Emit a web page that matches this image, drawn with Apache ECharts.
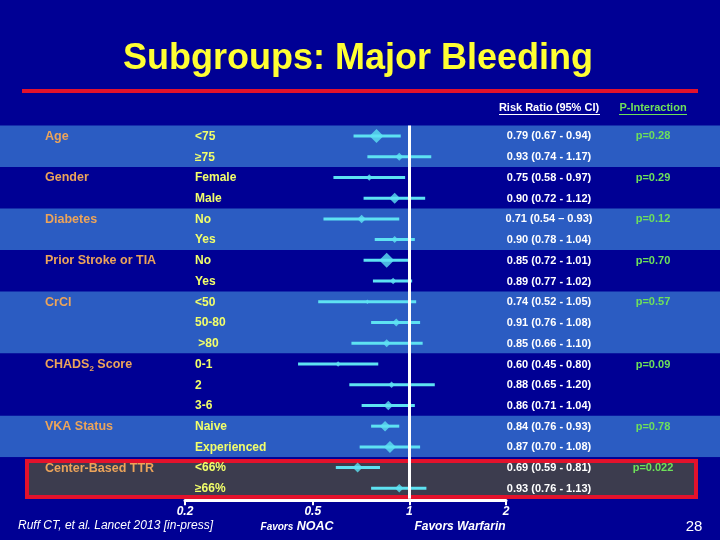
<!DOCTYPE html>
<html>
<head>
<meta charset="utf-8">
<style>
  html, body { margin: 0; padding: 0; background: #000094; }
  #chart { width: 720px; height: 540px; }
</style>
<script src="https://cdn.jsdelivr.net/npm/echarts@6/dist/echarts.min.js"></script>
</head>
<body>
<div id="chart"></div>
<script>
// rows, top to bottom
var groups = ['Age', '', 'Gender', '', 'Diabetes', '', 'Prior Stroke or TIA', '', 'CrCl', '', '',
    'CHADS2 Score', '', '', 'VKA Status', '', 'Center-Based TTR', ''];
var subgroups = ['<75', '\u226575', 'Female', 'Male', 'No', 'Yes', 'No', 'Yes', '<50', '50-80', ' >80',
    '0-1', '2', '3-6', 'Naive', 'Experienced', '<66%', '\u226566%'];
var riskRatio = [0.79, 0.93, 0.75, 0.90, 0.71, 0.90, 0.85, 0.89, 0.74, 0.91, 0.85, 0.60, 0.88, 0.86, 0.84, 0.87, 0.69, 0.93];
var ciLow = [0.67, 0.74, 0.58, 0.72, 0.54, 0.78, 0.72, 0.77, 0.52, 0.76, 0.66, 0.45, 0.65, 0.71, 0.76, 0.70, 0.59, 0.76];
var ciHigh = [0.94, 1.17, 0.97, 1.12, 0.93, 1.04, 1.01, 1.02, 1.05, 1.08, 1.10, 0.80, 1.20, 1.04, 0.93, 1.08, 0.81, 1.13];
var ciLabels = ['0.79 (0.67 - 0.94)', '0.93 (0.74 - 1.17)', '0.75 (0.58 - 0.97)', '0.90 (0.72 - 1.12)',
    '0.71 (0.54 \u2013 0.93)', '0.90 (0.78 - 1.04)', '0.85 (0.72 - 1.01)', '0.89 (0.77 - 1.02)',
    '0.74 (0.52 - 1.05)', '0.91 (0.76 - 1.08)', '0.85 (0.66 - 1.10)', '0.60 (0.45 - 0.80)',
    '0.88 (0.65 - 1.20)', '0.86 (0.71 - 1.04)', '0.84 (0.76 - 0.93)', '0.87 (0.70 - 1.08)',
    '0.69 (0.59 - 0.81)', '0.93 (0.76 - 1.13)'];
// relative weight of each subgroup (diamond size)
var weights = [14, 8, 6.5, 11, 8.5, 7, 15, 6.5, 4.5, 8, 8, 5.5, 6.5, 9.5, 10.5, 12, 10, 8.5];
var pValues = ['p=0.28', '', 'p=0.29', '', 'p=0.12', '', 'p=0.70', '', 'p=0.57', '', '',
    'p=0.09', '', '', 'p=0.78', '', 'p=0.022', ''];
var tickValues = [0.2, 0.5, 1, 2];
// background bands: first row, last row, kind
var bands = [[0, 1, 'light'], [2, 3, 'dark'], [4, 5, 'light'], [6, 7, 'dark'],
    [8, 10, 'light'], [11, 13, 'dark'], [14, 15, 'light'], [16, 17, 'ttr']];

var FONT = '"Liberation Sans", Arial, sans-serif';
var NAVY = '#000094';
var LIGHT = '#2b5cc2';
var GRAY = '#3c3c4e';
var RED = '#e3122c';
var CYAN = '#5ee2f2';
var ORANGE = '#eca45a';
var YELLOW = '#f2ff6a';
var GREEN = '#6ee05a';

var chart = echarts.init(document.getElementById('chart'));

function renderBand(params, api) {
    var b = bands[params.dataIndex];
    var h = api.size([0, 1])[1];
    var top = api.coord([1, b[0]])[1] - h / 2;
    var bottom = api.coord([1, b[1]])[1] + h / 2;
    var w = api.getWidth();
    if (b[2] === 'ttr') {
        return {
            type: 'group',
            children: [
                { type: 'rect', shape: { x: 0, y: top, width: w, height: bottom - top }, style: { fill: NAVY } },
                { type: 'rect', shape: { x: 27, y: top + 3.8, width: 669, height: bottom - top - 5.5 },
                  style: { fill: GRAY, stroke: RED, lineWidth: 4 } }
            ]
        };
    }
    return {
        type: 'rect',
        shape: { x: 0, y: top, width: w, height: bottom - top },
        style: { fill: b[2] === 'light' ? LIGHT : NAVY }
    };
}

function renderCI(params, api) {
    var i = params.dataIndex;
    var p1 = api.coord([ciLow[i], i]);
    var p2 = api.coord([ciHigh[i], i]);
    return {
        type: 'line',
        shape: { x1: p1[0], y1: p1[1], x2: p2[0], y2: p2[1] },
        style: { stroke: CYAN, lineWidth: 3 }
    };
}

function renderRowText(params, api) {
    var i = params.dataIndex;
    var y = api.coord([1, i])[1] + 0.5;
    var kids = [];
    if (groups[i]) {
        var g = groups[i];
        var st = { x: 45, y: y, fill: ORANGE, fontFamily: FONT, fontWeight: 'bold', fontSize: 12.5,
                   verticalAlign: 'middle', align: 'left' };
        if (g.indexOf('CHADS2') === 0) {
            st.text = '{g|CHADS}{s|2}{g|' + g.slice(6) + '}';
            st.rich = {
                g: { fontFamily: FONT, fontWeight: 'bold', fontSize: 12.5, fill: ORANGE, lineHeight: 16 },
                s: { fontFamily: FONT, fontWeight: 'bold', fontSize: 8, fill: ORANGE, lineHeight: 9, verticalAlign: 'bottom' }
            };
        } else {
            st.text = g;
        }
        kids.push({ type: 'text', style: st });
    }
    kids.push({ type: 'text', style: { text: subgroups[i], x: 195, y: y, fill: YELLOW, fontFamily: FONT,
        fontWeight: 'bold', fontSize: 12, verticalAlign: 'middle', align: 'left' } });
    kids.push({ type: 'text', style: { text: ciLabels[i], x: 549, y: y, fill: '#ffffff', fontFamily: FONT,
        fontWeight: 'bold', fontSize: 11, verticalAlign: 'middle', align: 'center' } });
    if (pValues[i]) {
        kids.push({ type: 'text', style: { text: pValues[i], x: 653, y: y, fill: GREEN, fontFamily: FONT,
            fontWeight: 'bold', fontSize: 11, verticalAlign: 'middle', align: 'center' } });
    }
    return { type: 'group', children: kids };
}

var rowIdx = subgroups.map(function (s, i) { return i; });

var option = {
    backgroundColor: NAVY,
    animation: false,
    grid: { left: 185, right: 214, top: 125.6, bottom: 41.3 },
    xAxis: {
        type: 'log',
        logBase: 10,
        min: 0.2,
        max: 2,
        offset: 1.5,
        axisLine: { show: true, lineStyle: { color: '#ffffff', width: 3 } },
        axisTick: { show: true, customValues: tickValues, length: 5, lineStyle: { color: '#ffffff', width: 2 } },
        axisLabel: {
            customValues: tickValues,
            color: '#ffffff', fontFamily: FONT, fontWeight: 'bold', fontStyle: 'italic', fontSize: 12, margin: 5,
            formatter: function (v) { return String(v); }
        },
        splitLine: { show: false },
        minorTick: { show: false }
    },
    yAxis: {
        type: 'category',
        inverse: true,
        data: rowIdx,
        show: false
    },
    graphic: [
        { type: 'text', x: 358, y: 59, z: 10,
          style: { text: 'Subgroups: Major Bleeding', fill: '#ffff33', fontFamily: FONT, fontWeight: 'bold',
                   fontSize: 36, align: 'center', verticalAlign: 'middle',
                   shadowColor: 'rgba(0,0,30,0.95)', shadowOffsetX: 2, shadowOffsetY: 2, shadowBlur: 1 } },
        { type: 'rect', shape: { x: 22, y: 89, width: 676, height: 4 }, style: { fill: RED } },
        { type: 'text', x: 549, y: 108,
          style: { text: 'Risk Ratio (95% CI)', fill: '#ffffff', fontFamily: FONT, fontWeight: 'bold', fontSize: 11,
                   align: 'center', verticalAlign: 'middle' } },
        { type: 'rect', shape: { x: 499, y: 114, width: 101, height: 1 }, style: { fill: '#ffffff' } },
        { type: 'text', x: 653, y: 108,
          style: { text: 'P-Interaction', fill: GREEN, fontFamily: FONT, fontWeight: 'bold', fontSize: 11,
                   align: 'center', verticalAlign: 'middle' } },
        { type: 'rect', shape: { x: 619, y: 114, width: 68, height: 1 }, style: { fill: GREEN } },
        { type: 'text', x: 18, y: 526,
          style: { text: 'Ruff CT, et al. Lancet 2013 [in-press]', fill: '#ffffff', fontFamily: FONT,
                   fontStyle: 'italic', fontSize: 12, align: 'left', verticalAlign: 'middle' } },
        { type: 'text', x: 297, y: 527,
          style: { text: '{a|Favors} {b|NOAC}', align: 'center', verticalAlign: 'middle',
                   rich: {
                       a: { fill: '#ffffff', fontFamily: FONT, fontWeight: 'bold', fontStyle: 'italic', fontSize: 10 },
                       b: { fill: '#ffffff', fontFamily: FONT, fontWeight: 'bold', fontStyle: 'italic', fontSize: 12.5 }
                   } } },
        { type: 'text', x: 460, y: 527,
          style: { text: 'Favors Warfarin', fill: '#ffffff', fontFamily: FONT, fontWeight: 'bold',
                   fontStyle: 'italic', fontSize: 12, align: 'center', verticalAlign: 'middle' } },
        { type: 'text', x: 694, y: 527,
          style: { text: '28', fill: '#ffffff', fontFamily: FONT, fontSize: 15, align: 'center', verticalAlign: 'middle' } }
    ],
    series: [
        {
            type: 'custom',
            name: 'bands',
            z: 0,
            silent: true,
            renderItem: renderBand,
            encode: { x: 0, y: 1 },
            data: bands.map(function (b) { return [1, b[0]]; })
        },
        {
            type: 'custom',
            name: 'rowText',
            z: 1,
            silent: true,
            renderItem: renderRowText,
            encode: { x: 0, y: 1 },
            data: rowIdx.map(function (i) { return [1, i]; })
        },
        {
            type: 'custom',
            name: 'ci',
            z: 2,
            silent: true,
            renderItem: renderCI,
            encode: { x: 0, y: 1 },
            data: rowIdx.map(function (i) { return [riskRatio[i], i]; })
        },
        {
            type: 'scatter',
            name: 'Risk Ratio',
            z: 3,
            symbol: 'diamond',
            symbolSize: function (val) { return val[2]; },
            itemStyle: { color: CYAN },
            data: rowIdx.map(function (i) { return [riskRatio[i], i, weights[i]]; }),
            markLine: {
                silent: true,
                symbol: 'none',
                label: { show: false },
                lineStyle: { color: '#ffffff', width: 3, type: 'solid' },
                data: [{ xAxis: 1 }]
            }
        }
    ]
};

chart.setOption(option);
</script>
</body>
</html>
